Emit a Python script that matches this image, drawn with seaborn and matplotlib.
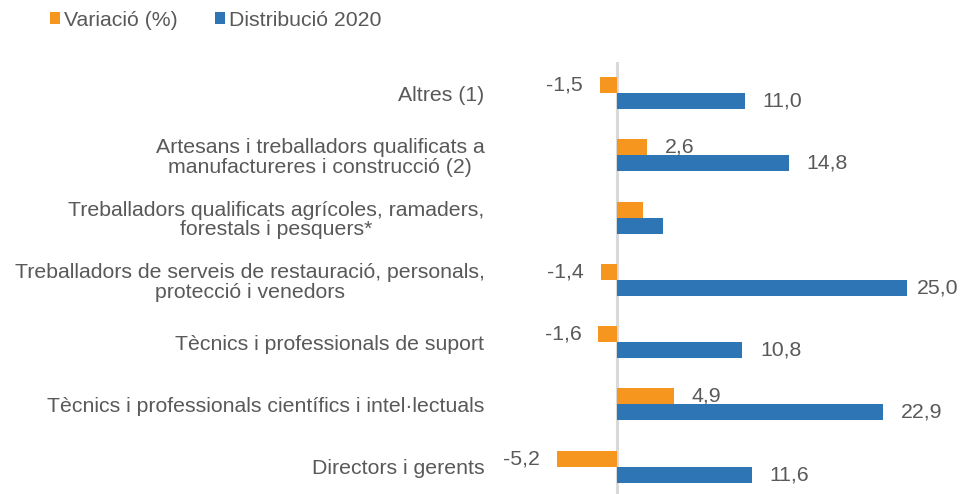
import matplotlib
matplotlib.use('Agg')
import matplotlib.pyplot as plt
import seaborn as sns
import pandas as pd

categories = [
    "Altres (1)",
    "Artesans i treballadors qualificats a\nmanufactureres i construcció (2)",
    "Treballadors qualificats agrícoles, ramaders,\nforestals i pesquers*",
    "Treballadors de serveis de restauració, personals,\nprotecció i venedors",
    "Tècnics i professionals de suport",
    "Tècnics i professionals científics i intel·lectuals",
    "Directors i gerents",
]
series_names = ["Variació (%)", "Distribució 2020"]
variacio = [-1.5, 2.6, 2.2, -1.4, -1.6, 4.9, -5.2]
distribucio = [11.0, 14.8, 4.0, 25.0, 10.8, 22.9, 11.6]
variacio_labels = ["-1,5", "2,6", None, "-1,4", "-1,6", "4,9", "-5,2"]
distribucio_labels = ["11,0", "14,8", None, "25,0", "10,8", "22,9", "11,6"]

ORANGE = "#F7961F"
BLUE = "#2E75B6"
TEXT = "#595959"

rows = []
for c, v in zip(categories, variacio):
    rows.append({"cat": c, "series": series_names[0], "value": v})
for c, v in zip(categories, distribucio):
    rows.append({"cat": c, "series": series_names[1], "value": v})
df = pd.DataFrame(rows)

sns.set_style("white")
plt.rcParams["font.family"] = ["Liberation Sans", "DejaVu Sans"]
FS = 15.3

W, H = 960, 494
fig = plt.figure(figsize=(W / 100, H / 100), dpi=100)
left_px, right_px, top_px, bottom_px = 490, 940, 62, 494
ax = fig.add_axes([left_px / W, 1 - bottom_px / H, (right_px - left_px) / W, (bottom_px - top_px) / H])

sns.barplot(data=df, y="cat", x="value", hue="series", order=categories,
            hue_order=series_names, palette=[ORANGE, BLUE], orient="h",
            width=0.514, gap=0, saturation=1, linewidth=0, legend=False, ax=ax)

zero_px = 617
scale = 11.6
ax.set_xlim((left_px - zero_px) / scale, (right_px - zero_px) / scale)
ax.set_ylim(6.44, -0.5)

for s in ax.spines.values():
    s.set_visible(False)
ax.axvline(0, color="#D9D9D9", lw=2.2, zorder=0)
ax.set_xticks([])
ax.set_xlabel("")
ax.set_ylabel("")
ax.tick_params(axis="y", length=0, pad=4, labelsize=FS, labelcolor=TEXT)
for t in ax.get_yticklabels():
    t.set_multialignment("center")
    t.set_linespacing(1.05)

maxv = max(distribucio)
for container, labels, vals in zip(ax.containers, [variacio_labels, distribucio_labels],
                                    [variacio, distribucio]):
    for patch, lab, v in zip(container, labels, vals):
        if lab is None:
            continue
        yc = patch.get_y() + patch.get_height() / 2
        if v < 0:
            ax.annotate(lab, (v, yc), xytext=(-12, 0), textcoords="offset points",
                        ha="right", va="center", fontsize=FS, color=TEXT, annotation_clip=False)
        else:
            off = 7 if v == maxv else 13
            ax.annotate(lab, (v, yc), xytext=(off, 0), textcoords="offset points",
                        ha="left", va="center", fontsize=FS, color=TEXT, annotation_clip=False)

handles = [ax.containers[0][0], ax.containers[1][0]]
leg = fig.legend(handles, series_names, loc="center left",
                 bbox_to_anchor=(50 / W, 1 - 20 / H), ncol=2, frameon=False,
                 handlelength=0.47, handleheight=0.47, handletextpad=0.2,
                 columnspacing=1.75, borderaxespad=0, borderpad=0, fontsize=FS)
for t in leg.get_texts():
    t.set_color(TEXT)

fig.savefig("out.png", dpi=100)
